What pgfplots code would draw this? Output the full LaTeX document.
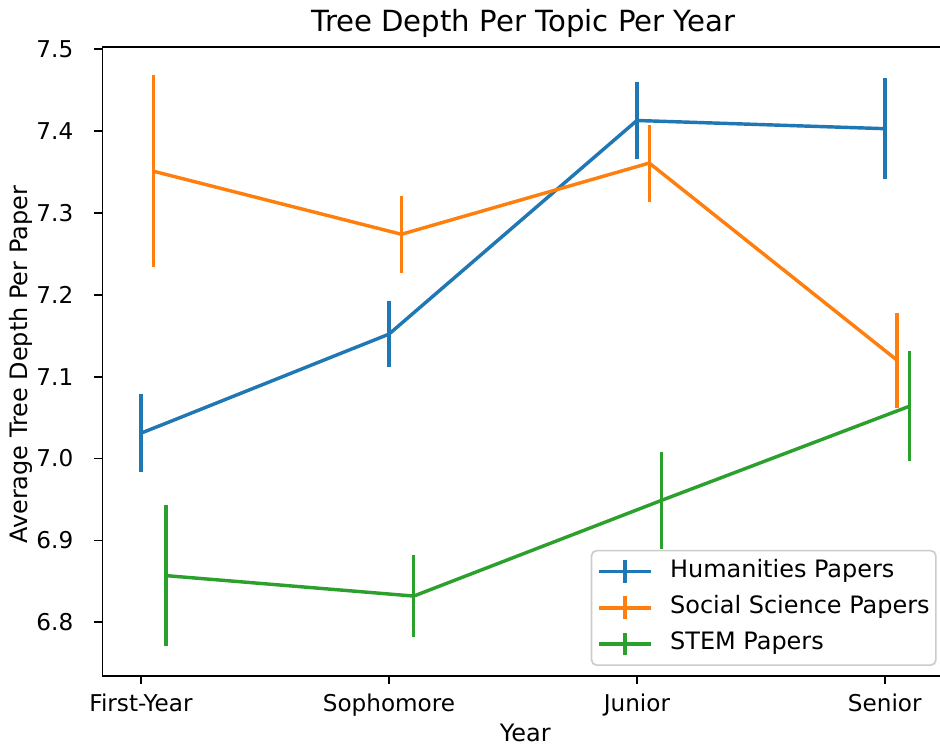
\documentclass[border=0pt]{standalone}
\usepackage{fontspec}
\setmainfont{DejaVu Sans}
\usepackage{pgfplots}
\usepackage{pgfplotstable}
\pgfplotsset{compat=1.18}
\definecolor{tabblue}{HTML}{1F77B4}
\definecolor{taborange}{HTML}{FF7F0E}
\definecolor{tabgreen}{HTML}{2CA02C}

\pgfplotstableread{
x y e
0 7.031 0.048
1 7.152 0.040
2 7.413 0.047
3 7.403 0.062
}\hum
\pgfplotstableread{
x y e
0.05 7.351 0.117
1.05 7.274 0.047
2.05 7.361 0.047
3.05 7.120 0.058
}\soc
\pgfplotstableread{
x y e
0.1 6.857 0.086
1.1 6.832 0.050
2.1 6.949 0.059
3.1 7.064 0.067
}\stem

\begin{document}
\begin{tikzpicture}
\begin{axis}[
  scale only axis, width=405.8pt, height=301.9pt,
  xmin=-0.155, xmax=3.255, ymin=6.7348, ymax=7.5032,
  axis line style={line width=0.85pt, black},
  every tick/.style={line width=0.85pt, black},
  major tick length=4pt,
  tick align=outside, tick pos=left,
  xtick={0,1,2,3}, xticklabels={First-Year,Sophomore,Junior,Senior},
  ytick={6.8,6.9,7.0,7.1,7.2,7.3,7.4,7.5},
  yticklabel style={/pgf/number format/fixed, /pgf/number format/fixed zerofill, /pgf/number format/precision=1},
  /pgf/number format/assume math mode=true,
  tick label style={font=\fontsize{11.1}{13}\selectfont},
  xticklabel style={anchor=base, inner sep=0pt, yshift=-13.4pt},
  yticklabel style={anchor=east, inner sep=0pt, xshift=-9.9pt},
  title={Tree Depth Per Topic Per Year},
  title style={font=\fontsize{14}{16}\selectfont, at={(axis description cs:0.4979,1.0234)}, anchor=base, yshift=-6pt, inner sep=0pt},
  xlabel={Year},
  xlabel style={font=\fontsize{11.5}{13}\selectfont, at={(axis description cs:0.5,-0.1053)}, anchor=base, inner sep=0pt},
  ylabel={Average Tree Depth Per Paper},
  ylabel style={font=\fontsize{11.5}{13}\selectfont, at={(axis description cs:-0.0823,0.494)}, anchor=south, inner sep=0pt},
  legend cell align=left,
  legend style={at={(axis description cs:0.9866,0.0154)}, anchor=south east,
    draw=black!20, fill=white, rounded corners=2.5pt, line width=0.8pt,
    font=\fontsize{11.5}{13}\selectfont,
    inner xsep=3pt, inner ysep=3.8pt, row sep=4.7pt, column sep=8.6pt,
    nodes={inner sep=0pt, text height=8pt, text depth=2.3pt}},
  legend image code/.code={
    \draw[#1, line width=1.65pt] (0pt,0pt) -- (24.5pt,0pt);
    \draw[#1, line width=1.65pt] (12.25pt,-5.5pt) -- (12.25pt,5.5pt);
  },
  every axis plot/.append style={line width=1.65pt, line join=round},
  error bars/y dir=both, error bars/y explicit, error bars/error mark=none,
]
\addplot[color=tabblue, error bars/error bar style={line width=1.65pt, tabblue}]
  table[x=x, y=y, y error=e] {\hum};
\addlegendentry{Humanities Papers}
\addplot[color=taborange, error bars/error bar style={line width=1.65pt, taborange}]
  table[x=x, y=y, y error=e] {\soc};
\addlegendentry{Social Science Papers}
\addplot[color=tabgreen, error bars/error bar style={line width=1.65pt, tabgreen}]
  table[x=x, y=y, y error=e] {\stem};
\addlegendentry{STEM Papers}
\end{axis}
\pgfresetboundingbox
\path ([xshift=-49.25pt,yshift=-34.7pt]current axis.south west) rectangle ([xshift=401.95pt,yshift=324.3pt]current axis.south west);
\end{tikzpicture}
\end{document}
